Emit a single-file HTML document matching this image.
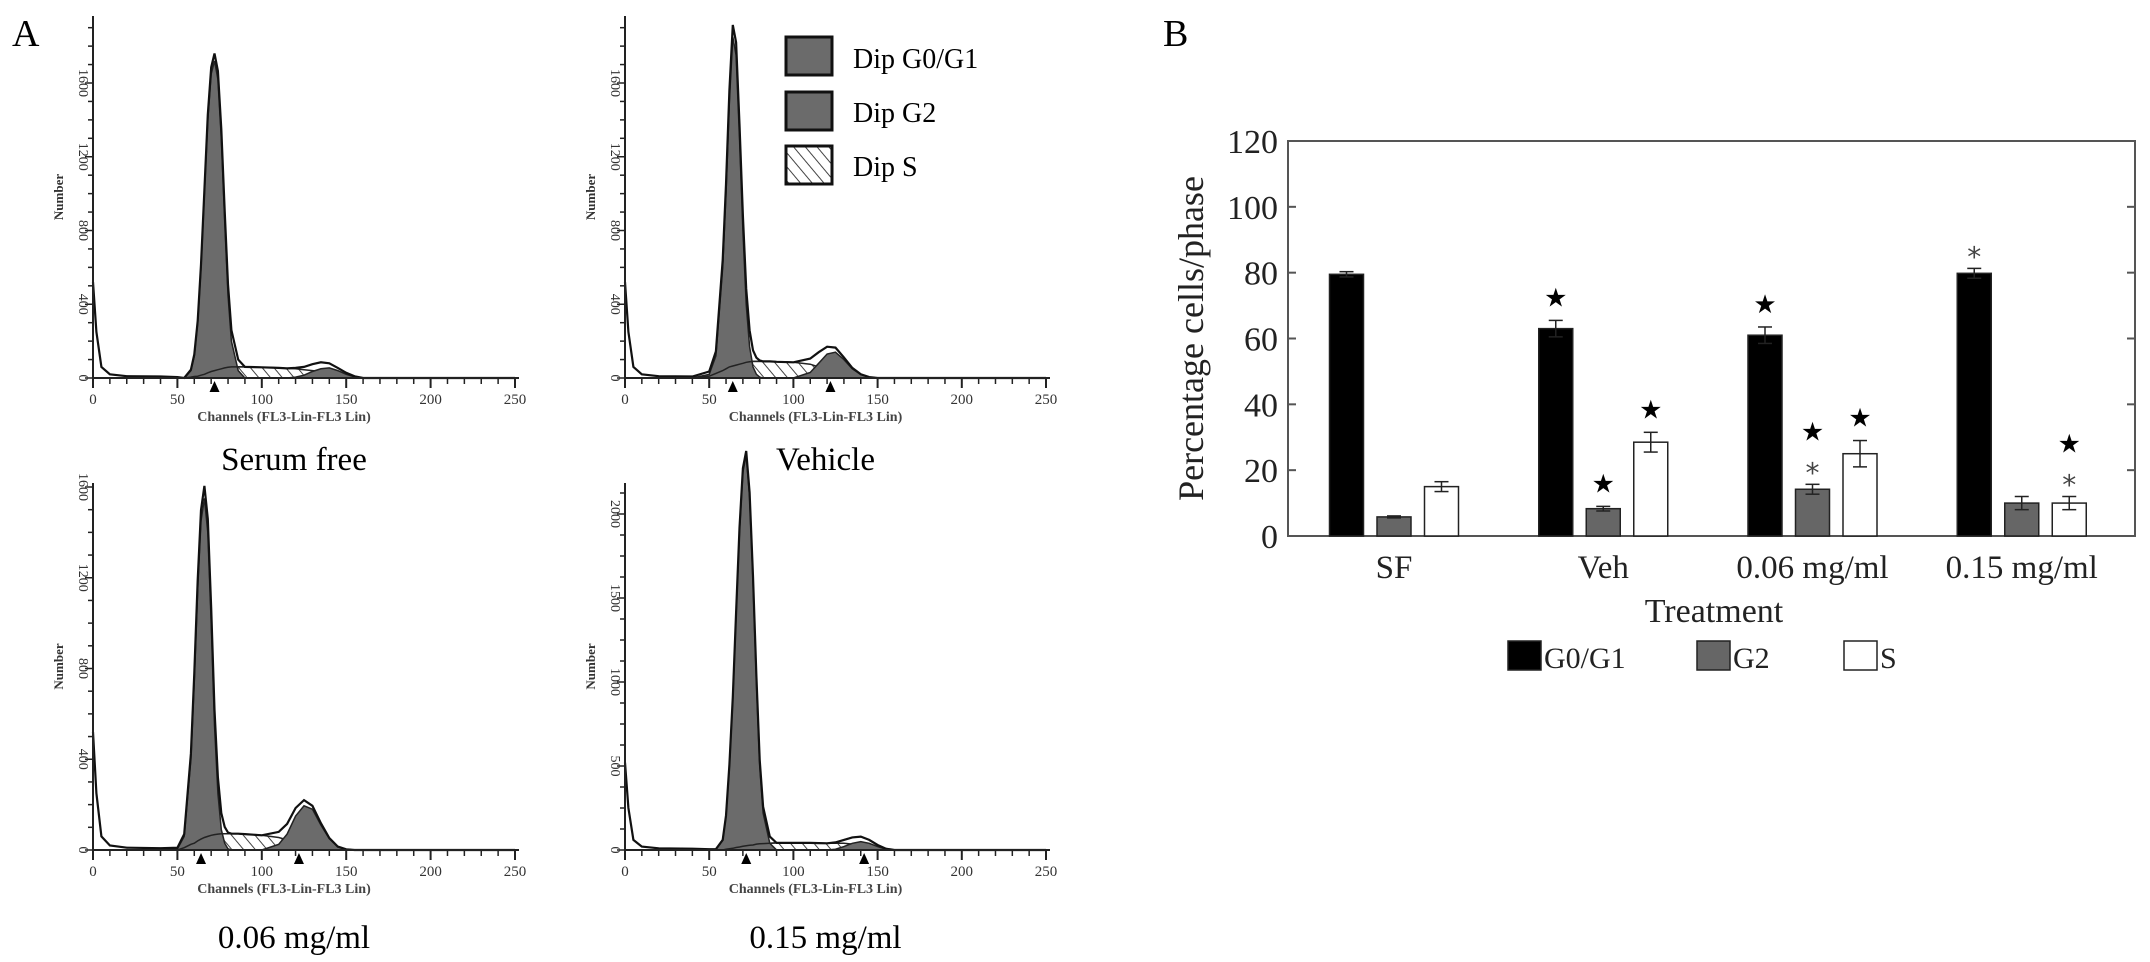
<!DOCTYPE html>
<html><head><meta charset="utf-8"><style>
body{margin:0;background:#fff;}
svg{display:block;font-family:"Liberation Serif",serif;}
</style></head><body>
<svg id="fig" width="2150" height="962" viewBox="0 0 2150 962">
<defs>
<pattern id="hatch" width="9" height="9" patternUnits="userSpaceOnUse" patternTransform="rotate(-40)">
<rect width="9" height="9" fill="#fff"/><line x1="0" y1="0" x2="0" y2="9" stroke="#444" stroke-width="2"/>
</pattern>
</defs>
<text x="12" y="46" font-size="38">A</text>
<text x="1163" y="46" font-size="38">B</text>
<g id="hists"></g>
<g id="legA">
<rect x="786" y="37" width="46" height="38" fill="#6b6b6b" stroke="#111" stroke-width="3"/>
<text x="853" y="68" font-size="28">Dip G0/G1</text>
<rect x="786" y="92" width="46" height="38" fill="#6b6b6b" stroke="#111" stroke-width="3"/>
<text x="853" y="122" font-size="28">Dip G2</text>
<rect x="786" y="146" width="46" height="38" fill="url(#hatch)" stroke="#111" stroke-width="3"/>
<text x="853" y="176" font-size="28">Dip S</text>
</g>
<g id="bars"></g>
</svg>
<script>
const NS="http://www.w3.org/2000/svg";
function mk(tag,attrs,parent,txt){const e=document.createElementNS(NS,tag);for(const k in attrs)e.setAttribute(k,attrs[k]);if(txt!==undefined)e.textContent=txt;parent.appendChild(e);return e;}

// ---------- Histogram data ----------
const channels=[0,2,5,10,20,40,50,54,58,60,62,64,66,68,70,72,74,76,78,80,82,86,90,100,110,115,120,125,130,135,140,145,150,155,160,170,200,250];
const debris=[520,250,60,20,10,8,5,0,0,0,0,0,0,0,0,0,0,0,0,0,0,0,0,0,0,0,0,0,0,0,0,0,0,0,0,0,0,0];
const sfG1=[0,0,0,0,0,0,0,0,40,120,300,600,1000,1400,1650,1720,1620,1300,850,450,200,40,0,0,0,0,0,0,0,0,0,0,0,0,0,0,0,0];
const sfS=[0,0,0,0,0,0,0,0,5,8,10,15,20,28,35,40,45,50,55,58,60,60,60,58,55,52,50,45,40,35,25,15,8,3,0,0,0,0];
const sfG2=[0,0,0,0,0,0,0,0,0,0,0,0,0,0,0,0,0,0,0,0,0,0,0,0,0,0,5,15,35,50,55,40,20,6,0,0,0,0];
const vehG1=[0,0,0,0,0,0,20,120,600,1000,1500,1850,1750,1300,800,400,170,60,20,5,0,0,0,0,0,0,0,0,0,0,0,0,0,0,0,0,0,0];
const vehS=[0,0,0,0,0,0,10,25,40,50,60,65,70,75,80,85,88,90,90,90,90,90,88,85,75,60,40,25,12,5,0,0,0,0,0,0,0,0];
const vehG2=[0,0,0,0,0,0,0,0,0,0,0,0,0,0,0,0,0,0,0,0,0,0,0,0,30,80,130,140,100,50,20,5,0,0,0,0,0,0];
const d06G1=[0,0,0,0,0,0,5,60,400,750,1150,1450,1550,1400,1000,550,250,90,30,5,0,0,0,0,0,0,0,0,0,0,0,0,0,0,0,0,0,0];
const d06S=[0,0,0,0,0,0,0,10,25,30,40,48,55,60,65,68,70,72,72,72,72,72,70,65,55,45,35,25,15,8,3,0,0,0,0,0,0,0];
const d06G2=[0,0,0,0,0,0,0,0,0,0,0,0,0,0,0,0,0,0,0,0,0,0,0,0,25,70,150,195,180,110,50,15,3,0,0,0,0,0];
const d15G1=[0,0,0,0,0,0,0,5,60,200,500,900,1400,1900,2250,2350,2100,1600,1000,500,220,40,0,0,0,0,0,0,0,0,0,0,0,0,0,0,0,0];
const d15S=[0,0,0,0,0,0,0,0,0,5,8,10,15,18,22,25,28,30,35,37,38,40,42,42,42,41,40,40,40,35,30,20,10,3,0,0,0,0];
const d15G2=[0,0,0,0,0,0,0,0,0,0,0,0,0,0,0,0,0,0,0,0,0,0,0,0,0,0,0,5,20,40,50,40,20,5,0,0,0,0];
const xTicks=[0,50,100,150,200,250];
const panels=[
 {name:"serum-free",cap:"Serum free",g1:sfG1,s:sfS,g2:sfG2,x0:93,x1:515,y0:378,top:16,ymax:1600,ypx:295,yt:[0,400,800,1200,1600],markers:[72],capY:470},
 {name:"vehicle",cap:"Vehicle",g1:vehG1,s:vehS,g2:vehG2,x0:625,x1:1046,y0:378,top:16,ymax:1600,ypx:295,yt:[0,400,800,1200,1600],markers:[64,122],capY:470},
 {name:"dose-0-06",cap:"0.06 mg/ml",g1:d06G1,s:d06S,g2:d06G2,x0:93,x1:515,y0:850,top:483,ymax:1600,ypx:363,yt:[0,400,800,1200,1600],markers:[64,122],capY:948},
 {name:"dose-0-15",cap:"0.15 mg/ml",g1:d15G1,s:d15S,g2:d15G2,x0:625,x1:1046,y0:850,top:483,ymax:2000,ypx:336,yt:[0,500,1000,1500,2000],markers:[72,142],capY:948}
];
const H=document.getElementById('hists');
panels.forEach(p=>{
 const g=mk('g',{},H);
 
 
 const X=c=>p.x0+(c/250)*(p.x1-p.x0);
 const Y=v=>p.y0-v/p.ymax*p.ypx;
 const area=(arr,base)=>{let d='';channels.forEach((c,i)=>{d+=(i?'L':'M')+X(c).toFixed(1)+','+Y(arr[i]+(base?base[i]:0)).toFixed(1);});
   for(let i=channels.length-1;i>=0;i--)d+='L'+X(channels[i]).toFixed(1)+','+Y(base?base[i]:0).toFixed(1);return d+'Z';};
 const line=arr=>{let d='';channels.forEach((c,i)=>{d+=(i?'L':'M')+X(c).toFixed(1)+','+Y(arr[i]).toFixed(1);});return d;};
 const sg2=channels.map((c,i)=>p.s[i]+p.g2[i]);
 const total=channels.map((c,i)=>p.s[i]+p.g2[i]+p.g1[i]+debris[i]);
 let e=mk('path',{d:area(p.s),fill:'url(#hatch)',stroke:'#222','stroke-width':1.5},g);
 
 e=mk('path',{d:area(p.g2),fill:'#6b6b6b',stroke:'#222','stroke-width':1.5},g);
 
 e=mk('path',{d:area(p.g1),fill:'#6b6b6b',stroke:'#222','stroke-width':1.5},g);
 
 e=mk('path',{d:line(sg2),fill:'none',stroke:'#222','stroke-width':1.5},g);
 e=mk('path',{d:line(total),fill:'none',stroke:'#111','stroke-width':2.2},g);
 
 mk('line',{x1:p.x0,y1:p.y0,x2:p.x1+4,y2:p.y0,stroke:'#222','stroke-width':2},g);
 mk('line',{x1:p.x0,y1:p.top,x2:p.x0,y2:p.y0+8,stroke:'#222','stroke-width':2},g);
 for(let c=0;c<=250;c+=10){const big=c%50==0;mk('line',{x1:X(c),y1:p.y0,x2:X(c),y2:p.y0+(big?10:6),stroke:'#222','stroke-width':big?2:1.5},g);}
 xTicks.forEach(t=>{e=mk('text',{x:X(t),y:p.y0+26,'font-size':15,'text-anchor':'middle',fill:'#333'},g,t);
   });
 const step=p.yt[1]/4;
 for(let v=0;Y(v)>=p.top;v+=step){const big=v%p.yt[1]==0;mk('line',{x1:p.x0-(big?8:5),y1:Y(v),x2:p.x0,y2:Y(v),stroke:'#222','stroke-width':1.5},g);}
 p.yt.forEach(t=>{e=mk('text',{x:0,y:0,'font-size':14,'text-anchor':'middle',fill:'#333',transform:`translate(${p.x0-14},${Y(t)}) rotate(90)`},g,t);
   });
 e=mk('text',{x:0,y:0,'font-size':13,'font-weight':'bold','text-anchor':'middle',fill:'#333',transform:`translate(${p.x0-30},${(p.top+p.y0)/2}) rotate(-90)`},g,'Number');
 
 e=mk('text',{x:(p.x0+p.x1)/2-20,y:p.y0+43,'font-size':14,'font-weight':'bold','text-anchor':'middle',fill:'#444'},g,'Channels (FL3-Lin-FL3 Lin)');
 
 p.markers.forEach(m=>{e=mk('path',{d:`M${X(m)-5},${p.y0+14}L${X(m)+5},${p.y0+14}L${X(m)},${p.y0+3}Z`,fill:'#000'},g);
   });
 e=mk('text',{x:(p.x0+p.x1)/2-10,y:p.capY,'font-size':33,'text-anchor':'middle'},g,p.cap);
 
});

// ---------- Bar chart data ----------
const categories=["SF","Veh","0.06 mg/ml","0.15 mg/ml"];
const seriesNames=["G0/G1","G2","S"];
const g0g1Vals=[79.5,63,61,79.8];
const g2Vals=[5.8,8.3,14.2,10];
const sVals=[15,28.5,25,10];
const g0g1Err=[0.8,2.5,2.5,1.5];
const g2Err=[0.3,0.7,1.5,2];
const sErr=[1.5,3,4,2];
const yTicks=[0,20,40,60,80,100,120];
const sigMarks=[[1,0,"★"],[1,1,"★"],[1,2,"★"],[2,0,"★"],[2,1,"★*"],[2,2,"★"],[3,0,"*"],[3,2,"★*"]];

const B=document.getElementById('bars');
const PL=1288,PR=2135,PT=141,PB=536;
const yS=v=>PB-(v/120)*(PB-PT);
const band=(PR-PL-10)/4;
const xC=i=>PL+106+i*band;
const barW=34,barStep=47.5;
const fills=['#000','#666','#fff'];
const vals=[g0g1Vals,g2Vals,sVals],errs=[g0g1Err,g2Err,sErr];
let e=mk('rect',{x:PL,y:PT,width:PR-PL,height:PB-PT,fill:'none',stroke:'#555','stroke-width':2},B);

yTicks.forEach(t=>{
 mk('line',{x1:PL,y1:yS(t),x2:PL+8,y2:yS(t),stroke:'#555','stroke-width':2},B);
 mk('line',{x1:PR-8,y1:yS(t),x2:PR,y2:yS(t),stroke:'#555','stroke-width':2},B);
 e=mk('text',{x:PL-10,y:yS(t)+12,'font-size':34,'text-anchor':'end',fill:'#222'},B,t);
 
});
categories.forEach((c,i)=>{
 e=mk('text',{x:xC(i),y:578,'font-size':33,'text-anchor':'middle',fill:'#222'},B,c);
 
 for(let s=0;s<3;s++){
  const cx=xC(i)+(s-1)*barStep, v=vals[s][i], er=errs[s][i];
  e=mk('rect',{x:cx-barW/2,y:yS(v),width:barW,height:PB-yS(v),fill:fills[s],stroke:'#222','stroke-width':1.5},B);
  
  const eb=mk('g',{stroke:'#222','stroke-width':1.5},B);
  
  mk('line',{x1:cx,y1:yS(v+er),x2:cx,y2:yS(v-er)},eb);
  mk('line',{x1:cx-7,y1:yS(v+er),x2:cx+7,y2:yS(v+er)},eb);
  mk('line',{x1:cx-7,y1:yS(v-er),x2:cx+7,y2:yS(v-er)},eb);
 }
});
sigMarks.forEach(m=>{
 const [ci,si,sym]=m;const cx=xC(ci)+(si-1)*barStep;
 let yb=yS(vals[si][ci]+errs[si][ci])-14;
 for(let k=sym.length-1;k>=0;k--){
  const ch=sym[k];
  e=mk('text',{x:cx,y:ch==='*'?yb+12:yb,'font-size':ch==='*'?28:26,'text-anchor':'middle',fill:ch==='*'?'#444':'#000','font-family':'DejaVu Sans, sans-serif'},B,ch);
  
  yb-=ch==='*'?30:34;
 }
});
e=mk('text',{x:0,y:0,'font-size':36,'text-anchor':'middle',fill:'#222',transform:`translate(1203,${(PT+PB)/2}) rotate(-90)`},B,'Percentage cells/phase');

e=mk('text',{x:1714,y:622,'font-size':34,'text-anchor':'middle',fill:'#222'},B,'Treatment');

const legX=[1508,1697,1844];
seriesNames.forEach((n,s)=>{
 const lg=mk('g',{},B);
 
 mk('rect',{x:legX[s],y:641,width:33,height:29,fill:fills[s],stroke:'#222','stroke-width':1.5},lg);
 mk('text',{x:legX[s]+36,y:668,'font-size':30,fill:'#222'},lg,n);
});
</script>
</body></html>
